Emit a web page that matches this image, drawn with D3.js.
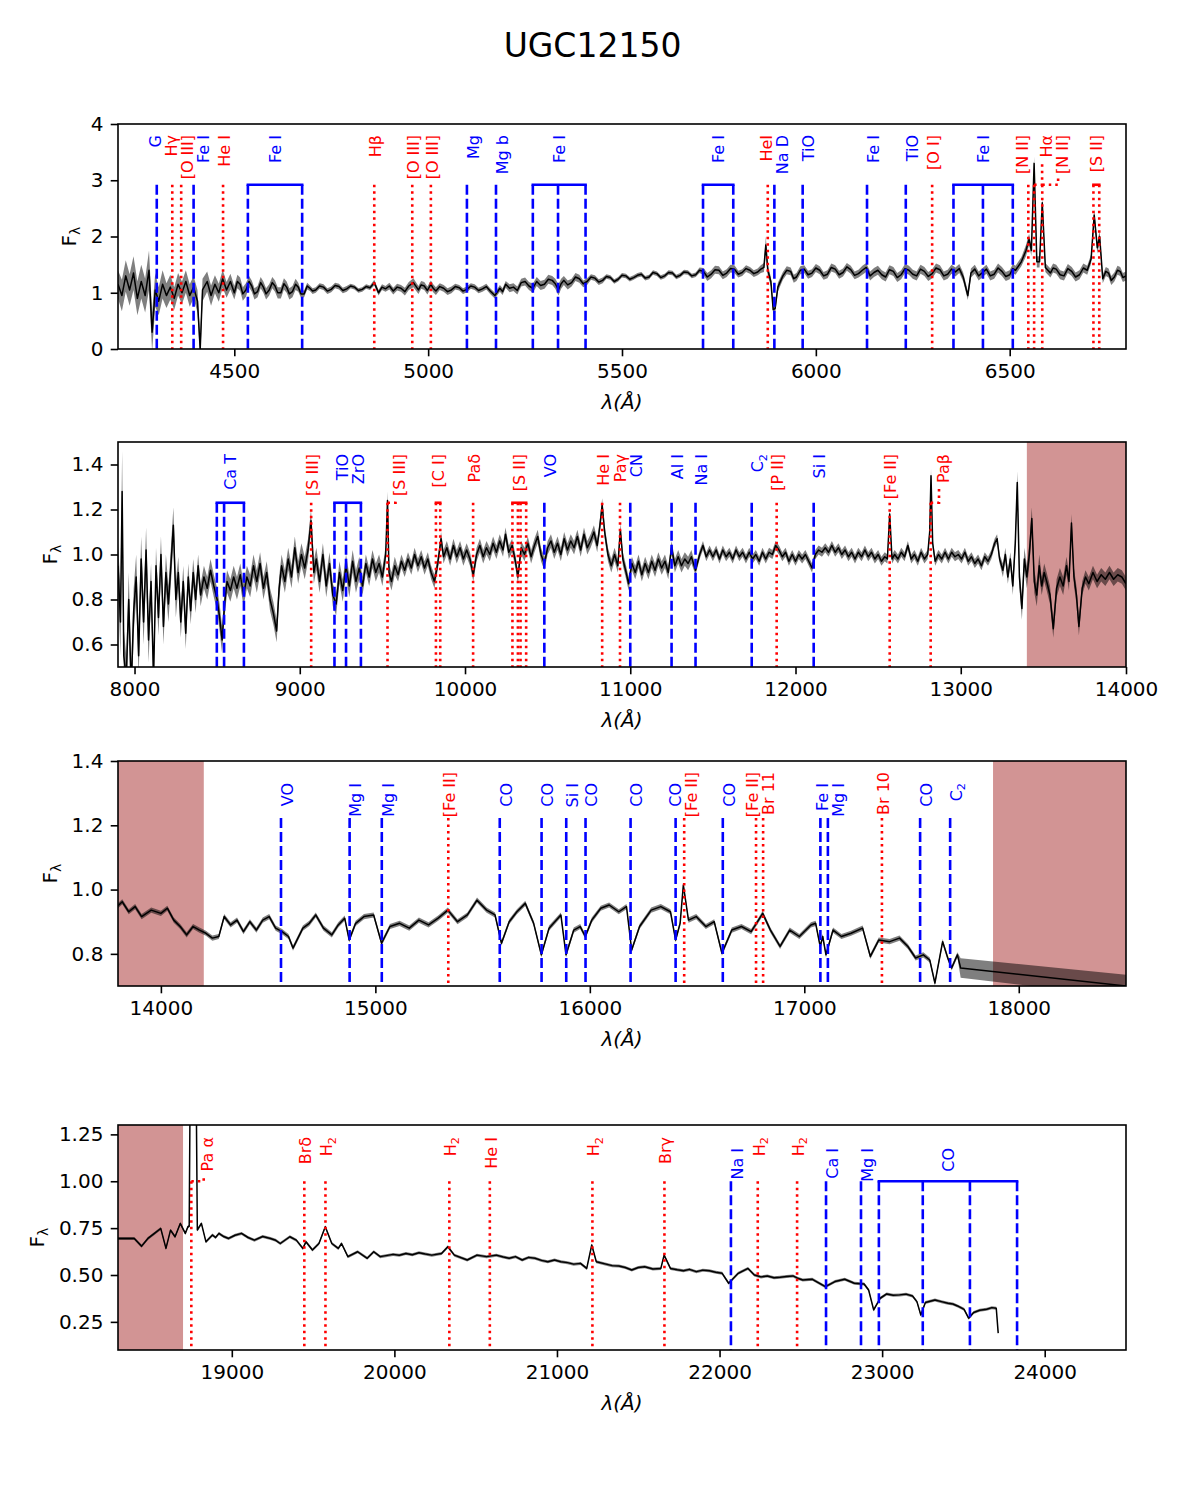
<!DOCTYPE html>
<html>
<head>
<meta charset="utf-8">
<script src="https://cdn.jsdelivr.net/npm/d3@7/dist/d3.min.js"></script>
<style>
  body { margin: 0; background: #fff; }
  text { font-family: "DejaVu Sans", sans-serif; }
</style>
</head>
<body>
<svg id="chart" width="1185" height="1500"></svg>
<script>
// spectrum samples: [wavelength (A), flux, error]
var spec1 = [
  [4200,1.15,.25],[4210,0.95,.28],[4220,1.30,.28],[4230,1.05,.28],[4240,1.35,.3],[4250,0.90,.3],
  [4260,1.20,.3],[4270,0.95,.3],[4280,1.40,.35],[4288,0.30,.35],[4296,1.05,.3],[4305,0.85,.25],
  [4315,1.15,.25],[4325,0.95,.22],[4335,1.10,.22],[4345,0.90,.2],[4355,1.15,.2],[4365,1.00,.2],
  [4375,1.20,.2],[4385,0.95,.2],[4395,1.10,.2],[4405,0.85,.2],[4412,0.00,.2],[4418,1.05,.2],
  [4430,1.20,.18],[4440,0.95,.18],[4450,1.15,.16],[4460,1.00,.16],[4470,1.25,.16],[4480,1.05,.14],
  [4490,1.20,.14],[4500,1.00,.12],[4508,1.20,.12],[4515,1.15,.12],[4522,0.98,.12],[4530,1.05,.12],
  [4538,1.20,.1],[4545,1.12,.1],[4552,0.98,.1],[4560,1.02,.1],[4568,1.18,.1],[4575,1.10,.1],
  [4582,0.98,.1],[4590,1.05,.1],[4598,1.18,.1],[4605,1.12,.1],[4612,1.00,.1],[4620,1.00,.1],
  [4628,1.16,.1],[4635,1.10,.1],[4642,0.98,.1],[4650,1.02,.1],[4658,1.15,.1],[4665,1.10,.08],
  [4672,0.98,.07],[4680,0.98,.06],[4688,1.12,.06],[4695,1.08,.05],[4702,1.03,.05],[4710,1.05,.05],
  [4720,1.12,.05],[4730,1.10,.05],[4740,1.03,.05],[4750,1.06,.05],[4760,1.13,.05],[4770,1.11,.05],
  [4780,1.04,.05],[4790,1.07,.05],[4800,1.12,.04],[4810,1.10,.04],[4820,1.04,.04],[4830,1.06,.04],
  [4840,1.11,.04],[4850,1.09,.04],[4861,1.18,.05],[4872,1.00,.05],[4881,1.10,.05],[4890,1.07,.05],
  [4900,1.12,.06],[4910,1.03,.06],[4920,1.10,.06],[4930,1.08,.06],[4940,1.02,.07],[4950,1.12,.07],
  [4962,1.18,.08],[4975,1.05,.07],[4982,1.14,.07],[4990,1.12,.07],[4998,1.04,.07],[5007,1.15,.07],
  [5013,1.08,.07],[5020,1.03,.07],[5030,1.11,.06],[5040,1.08,.06],[5050,1.02,.06],[5060,1.05,.06],
  [5070,1.11,.05],[5080,1.09,.05],[5090,1.03,.05],[5100,1.06,.05],[5110,1.12,.05],[5120,1.10,.05],
  [5130,1.04,.05],[5140,1.07,.05],[5150,1.11,.05],[5160,1.03,.05],[5172,0.95,.05],[5185,1.08,.06],
  [5192,1.02,.06],[5200,1.15,.06],[5210,1.08,.07],[5220,1.10,.07],[5230,1.04,.07],[5240,1.18,.07],
  [5250,1.20,.07],[5260,1.12,.07],[5270,1.08,.08],[5280,1.20,.08],[5290,1.13,.08],[5300,1.15,.08],
  [5310,1.24,.08],[5320,1.22,.08],[5328,1.16,.09],[5336,1.05,.1],[5343,1.16,.09],[5350,1.22,.08],
  [5360,1.14,.08],[5370,1.18,.07],[5380,1.28,.07],[5390,1.25,.07],[5400,1.16,.06],[5410,1.20,.06],
  [5420,1.28,.05],[5430,1.26,.05],[5440,1.19,.05],[5450,1.22,.05],[5460,1.29,.04],[5470,1.27,.04],
  [5480,1.20,.04],[5490,1.24,.04],[5500,1.31,.04],[5510,1.30,.04],[5520,1.24,.04],[5530,1.27,.04],
  [5540,1.31,.04],[5550,1.33,.04],[5560,1.26,.04],[5570,1.28,.04],[5580,1.36,.04],[5590,1.34,.04],
  [5600,1.27,.04],[5610,1.30,.04],[5620,1.36,.04],[5630,1.35,.04],[5640,1.28,.04],[5650,1.31,.04],
  [5660,1.37,.04],[5670,1.36,.04],[5680,1.30,.04],[5690,1.32,.04],[5700,1.40,.05],[5710,1.38,.06],
  [5720,1.28,.07],[5730,1.33,.07],[5740,1.41,.07],[5750,1.40,.07],[5760,1.31,.07],[5770,1.35,.07],
  [5780,1.43,.07],[5790,1.42,.07],[5800,1.33,.06],[5810,1.36,.06],[5820,1.43,.06],[5830,1.40,.06],
  [5840,1.34,.06],[5850,1.37,.06],[5858,1.42,.07],[5866,1.45,.08],[5871,1.85,.15],[5876,1.40,.1],
  [5884,1.20,.08],[5890,0.70,.08],[5895,0.72,.08],[5902,1.10,.08],[5915,1.30,.07],[5925,1.40,.07],
  [5935,1.38,.07],[5943,1.25,.07],[5950,1.28,.07],[5960,1.40,.07],[5970,1.42,.07],[5980,1.32,.07],
  [5990,1.35,.07],[6000,1.44,.07],[6010,1.40,.07],[6020,1.30,.07],[6030,1.33,.07],[6040,1.45,.07],
  [6050,1.42,.07],[6060,1.32,.07],[6070,1.36,.07],[6080,1.46,.07],[6090,1.41,.07],[6100,1.31,.07],
  [6110,1.34,.07],[6120,1.40,.08],[6130,1.45,.08],[6140,1.30,.08],[6150,1.36,.08],[6160,1.40,.08],
  [6170,1.32,.08],[6180,1.28,.08],[6190,1.41,.08],[6200,1.38,.08],[6210,1.27,.08],[6220,1.32,.08],
  [6230,1.43,.08],[6240,1.40,.08],[6250,1.33,.08],[6260,1.30,.08],[6270,1.42,.08],[6280,1.38,.08],
  [6290,1.29,.08],[6300,1.34,.08],[6310,1.44,.08],[6320,1.41,.08],[6330,1.30,.08],[6340,1.33,.08],
  [6350,1.42,.08],[6360,1.37,.08],[6370,1.43,.08],[6380,1.28,.08],[6392,0.95,.08],[6400,1.35,.08],
  [6410,1.42,.08],[6420,1.30,.08],[6430,1.36,.08],[6440,1.42,.08],[6450,1.30,.08],[6460,1.33,.08],
  [6470,1.44,.08],[6480,1.38,.08],[6490,1.29,.08],[6500,1.32,.08],[6508,1.43,.08],[6515,1.40,.08],
  [6530,1.55,.08],[6542,1.75,.1],[6550,1.95,.1],[6556,1.75,.1],[6563,3.30,.12],[6570,1.55,.1],
  [6577,1.55,.1],[6584,2.60,.1],[6592,1.45,.08],[6605,1.35,.08],[6612,1.44,.08],[6620,1.42,.08],
  [6630,1.32,.08],[6640,1.30,.08],[6650,1.43,.08],[6660,1.38,.08],[6670,1.28,.08],[6680,1.32,.08],
  [6690,1.44,.08],[6700,1.40,.08],[6710,1.60,.08],[6718,2.38,.1],[6726,1.80,.1],[6732,2.00,.1],
  [6740,1.25,.08],[6748,1.38,.08],[6755,1.35,.08],[6762,1.22,.08],[6770,1.28,.08],[6778,1.40,.08],
  [6785,1.38,.08],[6792,1.27,.08],[6800,1.30,.08]
];

var spec2 = [
  [7900,0.95,.1],[7915,0.70,.15],[7925,1.28,.18],[7935,0.55,.12],[7950,0.45,.1],[7965,0.80,.12],
  [7980,0.40,.1],[7995,0.75,.1],[8010,0.90,.1],[8025,0.55,.1],[8040,0.98,.1],[8055,0.70,.1],
  [8070,1.02,.1],[8085,0.62,.1],[8100,0.88,.08],[8115,0.45,.08],[8130,0.95,.08],[8145,0.72,.08],
  [8160,1.00,.08],[8175,0.68,.08],[8190,0.92,.08],[8205,0.78,.08],[8220,0.95,.08],[8235,1.13,.08],
  [8250,0.80,.08],[8265,0.92,.07],[8280,0.70,.07],[8295,0.88,.07],[8310,0.65,.07],[8325,0.90,.06],
  [8340,0.75,.06],[8355,0.92,.06],[8370,0.80,.06],[8385,0.95,.05],[8400,0.82,.05],[8420,0.90,.05],
  [8440,0.85,.05],[8460,0.93,.05],[8480,0.86,.05],[8500,0.80,.05],[8515,0.72,.06],[8530,0.62,.06],
  [8545,0.78,.06],[8560,0.88,.05],[8580,0.84,.05],[8600,0.90,.05],[8620,0.85,.05],[8640,0.91,.05],
  [8660,0.82,.05],[8680,0.90,.05],[8700,0.86,.05],[8720,0.95,.05],[8740,0.88,.05],[8760,0.96,.05],
  [8780,0.85,.05],[8800,0.92,.05],[8820,0.80,.05],[8840,0.74,.05],[8860,0.66,.05],[8875,0.85,.05],
  [8890,0.95,.05],[8910,0.88,.05],[8930,0.98,.05],[8950,0.90,.05],[8970,1.03,.05],[8990,0.92,.05],
  [9010,1.00,.05],[9030,0.94,.05],[9050,1.02,.05],[9068,1.15,.05],[9085,0.92,.05],[9100,0.98,.05],
  [9120,0.88,.05],[9140,1.00,.05],[9160,0.86,.05],[9180,0.96,.05],[9200,0.82,.05],[9220,0.78,.05],
  [9240,0.92,.05],[9260,0.84,.05],[9280,0.95,.05],[9300,0.86,.05],[9320,0.97,.05],[9340,0.88,.05],
  [9360,0.94,.05],[9380,0.86,.04],[9400,0.96,.04],[9420,0.90,.04],[9440,0.98,.04],[9460,0.92,.04],
  [9480,0.96,.04],[9500,0.90,.04],[9520,1.00,.04],[9531,1.24,.04],[9540,0.92,.04],[9555,0.88,.04],
  [9575,0.95,.04],[9595,0.91,.03],[9615,0.97,.03],[9635,0.93,.03],[9655,0.98,.03],[9675,0.94,.03],
  [9695,1.00,.03],[9715,0.95,.03],[9735,0.99,.03],[9755,0.94,.03],[9775,0.98,.03],[9795,0.92,.03],
  [9815,0.88,.03],[9835,0.96,.03],[9855,1.07,.03],[9870,0.99,.03],[9890,1.03,.03],[9910,0.98,.03],
  [9930,1.04,.03],[9950,0.99,.03],[9970,1.03,.03],[9990,0.98,.03],[10010,1.02,.03],[10030,0.98,.03],
  [10050,0.91,.03],[10070,1.00,.03],[10090,1.04,.03],[10110,0.99,.03],[10130,1.03,.03],[10150,1.00,.03],
  [10170,1.05,.03],[10190,1.01,.03],[10210,1.06,.03],[10230,1.02,.03],[10245,1.09,.03],[10265,1.01,.03],
  [10285,1.04,.03],[10305,0.97,.03],[10320,0.90,.03],[10340,1.03,.03],[10360,1.00,.03],[10380,1.05,.03],
  [10400,0.99,.03],[10420,1.04,.03],[10440,1.08,.03],[10460,1.00,.03],[10480,0.96,.03],[10500,1.03,.03],
  [10520,1.06,.03],[10540,1.01,.03],[10560,1.05,.03],[10580,1.00,.03],[10600,1.07,.03],[10620,1.02,.03],
  [10640,1.06,.03],[10660,1.03,.03],[10680,1.08,.03],[10700,1.02,.03],[10720,1.09,.03],[10740,1.03,.03],
  [10760,1.06,.03],[10780,1.10,.03],[10800,1.04,.03],[10815,1.12,.03],[10830,1.22,.03],[10845,1.10,.03],
  [10865,1.00,.03],[10885,0.95,.03],[10905,1.00,.03],[10925,0.95,.03],[10940,1.11,.03],[10955,0.98,.03],
  [10975,0.92,.03],[10990,0.87,.03],[11010,0.96,.03],[11030,0.92,.03],[11050,0.97,.03],[11070,0.91,.03],
  [11090,0.96,.03],[11110,0.92,.03],[11130,0.97,.03],[11150,0.93,.03],[11170,0.98,.03],[11190,0.94,.03],
  [11210,0.97,.03],[11230,0.92,.03],[11250,1.03,.03],[11270,0.95,.03],[11290,0.99,.03],[11310,0.95,.03],
  [11330,0.98,.03],[11350,0.96,.03],[11370,0.99,.03],[11395,0.93,.02],[11420,1.00,.02],[11440,1.04,.02],
  [11460,0.99,.02],[11480,1.02,.02],[11500,0.99,.02],[11520,1.02,.02],[11540,0.98,.02],[11560,1.02,.02],
  [11580,0.99,.02],[11600,1.01,.02],[11620,0.98,.02],[11640,1.02,.02],[11660,0.99,.02],[11680,1.01,.02],
  [11700,0.98,.02],[11720,1.01,.02],[11740,0.98,.02],[11760,1.00,.02],[11780,0.97,.02],[11800,1.01,.02],
  [11820,0.98,.02],[11840,1.01,.02],[11860,1.00,.02],[11880,1.04,.02],[11900,1.02,.02],[11920,0.99,.02],
  [11940,1.01,.02],[11960,0.97,.02],[11980,1.00,.02],[12000,0.97,.02],[12020,1.00,.02],[12040,0.98,.02],
  [12060,1.00,.02],[12080,0.97,.02],[12100,0.94,.02],[12120,1.00,.02],[12140,1.02,.02],[12160,1.01,.02],
  [12180,1.03,.02],[12200,1.01,.02],[12220,1.04,.02],[12240,1.01,.02],[12260,1.03,.02],[12280,1.00,.02],
  [12300,1.02,.02],[12320,0.99,.02],[12340,1.01,.02],[12360,0.98,.02],[12380,1.01,.02],[12400,0.99,.02],
  [12420,1.02,.02],[12440,0.99,.02],[12460,1.01,.02],[12480,0.98,.02],[12500,1.00,.02],[12520,0.97,.02],
  [12540,0.99,.02],[12556,0.98,.02],[12570,1.18,.02],[12584,0.98,.02],[12600,1.00,.02],[12620,0.98,.02],
  [12640,1.01,.02],[12660,0.99,.02],[12680,1.04,.02],[12700,0.98,.02],[12720,1.00,.02],[12740,0.97,.02],
  [12760,1.01,.02],[12780,0.98,.02],[12800,1.00,.02],[12812,1.10,.02],[12820,1.35,.03],[12830,1.05,.02],
  [12845,0.97,.02],[12865,1.00,.02],[12885,0.98,.02],[12905,1.01,.02],[12925,0.98,.02],[12945,1.01,.02],
  [12965,0.99,.02],[12985,1.00,.02],[13005,0.98,.02],[13025,1.01,.02],[13045,0.97,.02],[13065,0.99,.02],
  [13085,0.96,.02],[13105,0.98,.02],[13125,0.95,.02],[13145,0.99,.02],[13165,0.97,.02],[13185,1.00,.02],
  [13205,1.05,.02],[13220,1.07,.02],[13235,0.98,.02],[13255,0.93,.03],[13270,1.00,.03],[13285,0.90,.03],
  [13300,0.98,.03],[13315,0.86,.04],[13330,1.05,.04],[13342,1.32,.05],[13355,0.90,.05],[13370,0.76,.05],
  [13385,0.98,.05],[13400,0.90,.05],[13415,1.00,.05],[13430,1.16,.05],[13445,0.88,.05],[13460,0.82,.05],
  [13475,0.95,.05],[13490,0.86,.04],[13505,0.92,.04],[13520,0.88,.04],[13540,0.82,.04],[13560,0.67,.04],
  [13580,0.85,.04],[13600,0.90,.04],[13620,0.86,.04],[13640,0.95,.04],[13655,0.88,.04],[13670,1.14,.04],
  [13685,0.90,.04],[13700,0.82,.04],[13715,0.68,.04],[13735,0.85,.03],[13755,0.90,.03],[13775,0.87,.03],
  [13800,0.92,.03],[13825,0.88,.03],[13850,0.91,.03],[13875,0.89,.03],[13900,0.92,.03],[13925,0.89,.03],
  [13950,0.91,.03],[13975,0.90,.03],[14000,0.87,.03]
];

var spec3 = [
  [13800,0.950,.008],[13820,0.962,.008],[13850,0.931,.008],[13880,0.947,.008],[13910,0.916,.008],
  [13955,0.936,.008],[14000,0.926,.008],[14030,0.942,.008],[14060,0.905,.008],[14090,0.885,.008],
  [14120,0.859,.008],[14150,0.885,.008],[14180,0.874,.008],[14210,0.864,.008],[14240,0.849,.008],
  [14270,0.854,.008],[14295,0.916,.008],[14325,0.890,.008],[14355,0.905,.008],[14385,0.869,.008],
  [14415,0.900,.008],[14445,0.874,.008],[14475,0.905,.008],[14505,0.916,.008],[14535,0.880,.008],
  [14565,0.869,.008],[14595,0.854,.008],[14616,0.818,.008],[14662,0.880,.008],[14692,0.895,.008],
  [14722,0.921,.008],[14758,0.880,.008],[14797,0.859,.008],[14827,0.890,.008],[14857,0.911,.008],
  [14878,0.843,.008],[14908,0.895,.008],[14947,0.916,.008],[14992,0.921,.008],[15029,0.833,.008],
  [15068,0.885,.008],[15113,0.895,.008],[15158,0.880,.008],[15203,0.905,.008],[15248,0.890,.008],
  [15293,0.911,.008],[15338,0.936,.008],[15383,0.900,.008],[15429,0.921,.008],[15474,0.967,.008],
  [15519,0.936,.008],[15558,0.921,.008],[15588,0.833,.008],[15624,0.900,.008],[15660,0.931,.008],
  [15699,0.957,.008],[15738,0.895,.008],[15774,0.797,.008],[15810,0.880,.008],[15865,0.921,.008],
  [15889,0.797,.008],[15925,0.874,.008],[15955,0.885,.008],[15979,0.854,.008],[16009,0.905,.008],
  [16051,0.942,.008],[16090,0.952,.008],[16135,0.931,.008],[16171,0.947,.008],[16195,0.812,.008],
  [16232,0.885,.008],[16286,0.936,.008],[16331,0.947,.008],[16376,0.931,.008],[16400,0.843,.008],
  [16421,0.895,.008],[16436,1.014,.008],[16460,0.905,.008],[16496,0.916,.008],[16541,0.885,.008],
  [16580,0.900,.008],[16616,0.802,.008],[16662,0.874,.008],[16707,0.885,.008],[16752,0.869,.008],
  [16782,0.900,.008],[16806,0.926,.008],[16842,0.874,.008],[16887,0.823,.008],[16932,0.874,.008],
  [16977,0.854,.008],[17031,0.890,.008],[17053,0.895,.008],[17074,0.823,.008],[17086,0.854,.008],
  [17101,0.797,.008],[17134,0.874,.008],[17173,0.854,.008],[17218,0.864,.008],[17272,0.880,.008],
  [17308,0.792,.008],[17347,0.843,.008],[17398,0.838,.008],[17444,0.849,.008],[17483,0.823,.008],
  [17519,0.787,.008],[17555,0.797,.008],[17585,0.781,.008],[17609,0.709,.008],[17645,0.838,.008],
  [17669,0.787,.008],[17687,0.756,.008],[17714,0.797,.008],[17729,0.756,.03],[18500,0.700,.035]
];

var spec4 = [
  [18300,0.695,.008],[18400,0.695,.008],[18445,0.654,.008],[18484,0.695,.008],[18524,0.722,.008],
  [18563,0.748,.008],[18595,0.642,.008],[18623,0.739,.008],[18651,0.704,.008],[18683,0.775,.008],
  [18714,0.722,.008],[18730,0.757,.008],[18738,0.760,.008],[18746,1.800,.01],[18762,2.400,.01],
  [18778,1.800,.01],[18788,0.740,.008],[18813,0.775,.008],[18841,0.677,.008],[18881,0.713,.008],
  [18900,0.700,.008],[18921,0.722,.008],[18950,0.705,.008],[18980,0.695,.008],[19020,0.712,.008],
  [19060,0.722,.008],[19100,0.700,.008],[19139,0.686,.008],[19190,0.705,.008],[19238,0.695,.008],
  [19270,0.685,.008],[19298,0.668,.008],[19357,0.704,.008],[19397,0.686,.008],[19437,0.642,.008],
  [19456,0.677,.008],[19496,0.633,.008],[19536,0.668,.008],[19575,0.757,.008],[19615,0.668,.008],
  [19655,0.642,.008],[19675,0.668,.008],[19714,0.598,.008],[19774,0.624,.008],[19833,0.589,.008],
  [19873,0.624,.008],[19913,0.598,.008],[19992,0.610,.008],[20030,0.605,.008],[20071,0.615,.008],
  [20110,0.608,.008],[20151,0.619,.008],[20190,0.612,.008],[20230,0.606,.008],[20290,0.615,.008],
  [20329,0.651,.008],[20369,0.606,.008],[20448,0.580,.008],[20508,0.606,.008],[20567,0.598,.008],
  [20627,0.606,.008],[20670,0.596,.008],[20706,0.589,.008],[20745,0.598,.008],[20786,0.580,.008],
  [20825,0.594,.008],[20865,0.589,.008],[20905,0.578,.008],[20944,0.571,.008],[20985,0.580,.008],
  [21024,0.571,.008],[21065,0.566,.008],[21103,0.558,.008],[21145,0.562,.008],[21183,0.535,.008],
  [21214,0.660,.008],[21242,0.571,.008],[21302,0.558,.008],[21340,0.550,.008],[21381,0.548,.008],
  [21420,0.540,.008],[21460,0.527,.008],[21500,0.540,.008],[21540,0.544,.008],[21590,0.532,.008],
  [21639,0.535,.008],[21659,0.606,.008],[21698,0.535,.008],[21740,0.528,.008],[21778,0.523,.008],
  [21815,0.530,.008],[21857,0.518,.008],[21897,0.526,.008],[21937,0.523,.008],[21977,0.515,.008],
  [22016,0.509,.008],[22056,0.456,.008],[22115,0.509,.008],[22175,0.535,.008],[22214,0.500,.008],
  [22255,0.490,.008],[22294,0.495,.008],[22335,0.485,.008],[22373,0.488,.008],[22412,0.492,.008],
  [22452,0.495,.008],[22480,0.483,.008],[22512,0.473,.008],[22571,0.477,.008],[22651,0.438,.008],
  [22710,0.465,.008],[22770,0.477,.008],[22829,0.456,.008],[22889,0.452,.008],[22917,0.420,.008],
  [22948,0.314,.008],[22988,0.376,.008],[23028,0.399,.008],[23068,0.392,.008],[23107,0.394,.008],
  [23147,0.398,.008],[23187,0.388,.008],[23214,0.358,.008],[23238,0.287,.008],[23266,0.353,.008],
  [23325,0.367,.008],[23365,0.358,.008],[23405,0.349,.008],[23435,0.345,.008],[23464,0.335,.008],
  [23504,0.317,.008],[23532,0.270,.008],[23563,0.300,.008],[23600,0.312,.008],[23643,0.317,.008],
  [23675,0.326,.008],[23702,0.323,.008],[23714,0.190,.008]
];

// line identifications: name, rest wavelengths, kind (em = emission, abs = absorption)
var lines1 = [
  {n:'G', w:[4300], k:'abs'}, {n:'Hγ', w:[4340], k:'em'}, {n:'[O III]', w:[4363], k:'em'},
  {n:'Fe I', w:[4395], k:'abs'}, {n:'He I', w:[4471], k:'em'}, {n:'Fe I', w:[4535,4675], k:'abs'},
  {n:'Hβ', w:[4861], k:'em'}, {n:'[O III]', w:[4959], k:'em'}, {n:'[O III]', w:[5007], k:'em'},
  {n:'Mg', w:[5100], k:'abs'}, {n:'Mg b', w:[5175], k:'abs'}, {n:'Fe I', w:[5270,5335,5406], k:'abs'},
  {n:'Fe I', w:[5709,5787], k:'abs'}, {n:'HeI', w:[5876], k:'em'}, {n:'Na D', w:[5893], k:'abs'},
  {n:'TiO', w:[5966], k:'abs'}, {n:'Fe I', w:[6132], k:'abs'}, {n:'TiO', w:[6232], k:'abs'},
  {n:'[O I]', w:[6300], k:'em'}, {n:'Fe I', w:[6355,6431,6508], k:'abs'}, {n:'[N II]', w:[6548], k:'em'},
  {n:'Hα', w:[6563], k:'em'}, {n:'[N II]', w:[6584], k:'em'}, {n:'[S II]', w:[6716,6731], k:'em'}
];
var lines2 = [
  {n:'Ca T', w:[8498,8542,8662], k:'abs'}, {n:'[S III]', w:[9069], k:'em'}, {n:'TiO', w:[9210,9370], k:'abs'},
  {n:'ZrO', w:[9280], k:'abs'}, {n:'[S III]', w:[9531], k:'em'}, {n:'[C I]', w:[9824,9850], k:'em'},
  {n:'Paδ', w:[10049], k:'em'}, {n:'[S II]', w:[10287,10320,10336,10370], k:'em'}, {n:'VO', w:[10480], k:'abs'},
  {n:'He I', w:[10830], k:'em'}, {n:'Paγ', w:[10938], k:'em'}, {n:'CN', w:[11000], k:'abs'},
  {n:'Al I', w:[11250], k:'abs'}, {n:'Na I', w:[11395], k:'abs'}, {n:'C_2', w:[11735], k:'abs'},
  {n:'[P II]', w:[11886], k:'em'}, {n:'Si I', w:[12110], k:'abs'}, {n:'[Fe II]', w:[12570], k:'em'},
  {n:'Paβ', w:[12818], k:'em'}
];
var lines3 = [
  {n:'VO', w:[14560], k:'abs'}, {n:'Mg I', w:[14880], k:'abs'}, {n:'Mg I', w:[15030], k:'abs'},
  {n:'[Fe II]', w:[15340], k:'em'}, {n:'CO', w:[15580], k:'abs'}, {n:'CO', w:[15775], k:'abs'},
  {n:'Si I', w:[15890], k:'abs'}, {n:'CO', w:[15980], k:'abs'}, {n:'CO', w:[16190], k:'abs'},
  {n:'CO', w:[16400], k:'abs'}, {n:'[Fe II]', w:[16440], k:'em'}, {n:'CO', w:[16620], k:'abs'},
  {n:'[Fe II]', w:[16775], k:'em'}, {n:'Br 11', w:[16808], k:'em'}, {n:'Fe I', w:[17075], k:'abs'},
  {n:'Mg I', w:[17110], k:'abs'}, {n:'Br 10', w:[17362], k:'em'}, {n:'CO', w:[17540], k:'abs'},
  {n:'C_2', w:[17680], k:'abs'}
];
var lines4 = [
  {n:'Pa α', w:[18751], k:'em'}, {n:'Brδ', w:[19446], k:'em'}, {n:'H_2', w:[19576], k:'em'},
  {n:'H_2', w:[20338], k:'em'}, {n:'He I', w:[20587], k:'em'}, {n:'H_2', w:[21218], k:'em'},
  {n:'Brγ', w:[21661], k:'em'}, {n:'Na I', w:[22070], k:'abs'}, {n:'H_2', w:[22235], k:'em'},
  {n:'H_2', w:[22477], k:'em'}, {n:'Ca I', w:[22655], k:'abs'}, {n:'Mg I', w:[22870], k:'abs'},
  {n:'CO', w:[22980,23250,23540,23830], k:'abs'}
];

// masked (telluric) regions
var shade1 = [];
var shade2 = [[13400,14000]];
var shade3 = [[13800,14200],[17880,18500]];
var shade4 = [[18300,18700]];

var xTicks1 = [4500,5000,5500,6000,6500], yTicks1 = [0,1,2,3,4];
var xTicks2 = [8000,9000,10000,11000,12000,13000,14000], yTicks2 = [0.6,0.8,1.0,1.2,1.4];
var xTicks3 = [14000,15000,16000,17000,18000], yTicks3 = [0.8,1.0,1.2,1.4];
var xTicks4 = [19000,20000,21000,22000,23000,24000], yTicks4 = [0.25,0.50,0.75,1.00,1.25];

var title = 'UGC12150';

// ---------------------------------------------------------------
var svg = d3.select('#chart');
var L = 118, R = 1126, H = 225;
var TICK = 7.3, FS = 20, LFS = 16;
var COL = {em: '#ff0000', abs: '#0000ff'};
var DASH = {em: '2.5,4', abs: '10,4'};

var panels = [
  {spec: spec1, lines: lines1, shades: shade1, xd: [4200,6800], yd: [0,4], xt: xTicks1, yt: yTicks1, fmt: d3.format('d'), top: 124, lineTop: 0.73, offEm: 11, offAbs: 11},
  {spec: spec2, lines: lines2, shades: shade2, xd: [7900,14000], yd: [0.5,1.5], xt: xTicks2, yt: yTicks2, fmt: d3.format('.1f'), top: 442, lineTop: 0.73, offEm: 12, offAbs: 12},
  {spec: spec3, lines: lines3, shades: shade3, xd: [13800,18500], yd: [0.7,1.4], xt: xTicks3, yt: yTicks3, fmt: d3.format('.1f'), top: 761, lineTop: 0.747, offEm: 11, offAbs: 22},
  {spec: spec4, lines: lines4, shades: shade4, xd: [18300,24500], yd: [0.1,1.3], xt: xTicks4, yt: yTicks4, fmt: d3.format('.2f'), top: 1125, lineTop: 0.75, offEm: 12, offAbs: 23}
];

svg.append('text')
  .attr('x', 592.5).attr('y', 57)
  .attr('text-anchor', 'middle')
  .attr('font-size', 33)
  .text(title);

// writes "X_s" as X with subscript s
function setLabel(t, s) {
  var parts = s.split('_');
  t.append('tspan').text(parts[0]);
  if (parts.length > 1) {
    t.append('tspan').attr('dy', '0.3em').attr('font-size', '70%').text(parts[1]);
  }
}

panels.forEach(function(p, i) {
  var x = d3.scaleLinear().domain(p.xd).range([L, R]);
  var y = d3.scaleLinear().domain(p.yd).range([p.top + H, p.top]);
  var g = svg.append('g');

  g.append('clipPath').attr('id', 'clip' + i)
    .append('rect').attr('x', L).attr('y', p.top).attr('width', R - L).attr('height', H);
  var cg = g.append('g').attr('clip-path', 'url(#clip' + i + ')');

  cg.selectAll('rect.shade')
    .data(p.shades)
    .join('rect')
    .attr('class', 'shade')
    .attr('x', (d) => x(d[0]))
    .attr('width', (d) => x(d[1]) - x(d[0]))
    .attr('y', p.top).attr('height', H)
    .attr('fill', '#a52a2a').attr('fill-opacity', 0.5);

  cg.append('path').datum(p.spec)
    .attr('d', d3.area().x((d) => x(d[0])).y0((d) => y(d[1] - d[2])).y1((d) => y(d[1] + d[2])))
    .attr('fill', '#000').attr('fill-opacity', 0.5);

  cg.append('path').datum(p.spec)
    .attr('d', d3.line().x((d) => x(d[0])).y((d) => y(d[1])))
    .attr('fill', 'none').attr('stroke', '#000').attr('stroke-width', 1.5)
    .attr('stroke-linejoin', 'round');

  // vertical line markers
  var topY = p.top + H * (1 - p.lineTop);
  var flat = [];
  p.lines.forEach(function(grp) { grp.w.forEach(function(w) { flat.push({w: w, k: grp.k}); }); });

  cg.selectAll('line.mark')
    .data(flat)
    .join('line')
    .attr('class', 'mark')
    .attr('x1', (d) => x(d.w)).attr('x2', (d) => x(d.w))
    .attr('y1', topY).attr('y2', p.top + H)
    .attr('stroke', (d) => COL[d.k])
    .attr('stroke-width', 2.6)
    .attr('stroke-dasharray', (d) => DASH[d.k]);

  cg.selectAll('line.bracket')
    .data(p.lines.filter((d) => d.w.length > 1))
    .join('line')
    .attr('class', 'bracket')
    .attr('x1', (d) => x(d3.min(d.w)) - 1.3).attr('x2', (d) => x(d3.max(d.w)) + 1.3)
    .attr('y1', topY).attr('y2', topY)
    .attr('stroke', (d) => COL[d.k])
    .attr('stroke-width', 2.6);

  // labels: measure, keep clear of spectrum peaks and of each other
  var pts = p.spec.map((d) => [x(d[0]), y(d[1])]);
  var labs = p.lines.map(function(grp) {
    var cx = x((d3.min(grp.w) + d3.max(grp.w)) / 2);
    var target = cx + (grp.w.length > 1 ? 0 : (grp.k === 'abs' ? 6 : 1));
    var t = g.append('text')
      .attr('font-size', LFS)
      .attr('fill', COL[grp.k])
      .attr('text-anchor', 'end')
      .attr('dy', '0.36em');
    setLabel(t, grp.n);
    var len = t.node().getComputedTextLength();
    var ty = p.top + (grp.k === 'abs' ? p.offAbs : p.offEm);
    return {grp: grp, t: t, cx: cx, target: target, tx: target, ty: ty, bottom: ty + len, avoided: false};
  });

  var gap = 16, hw = 12;
  function repel() {
    labs.sort((a, b) => a.tx - b.tx);
    for (var k = 0; k < labs.length - 1; k++) {
      var d = labs[k + 1].tx - labs[k].tx;
      if (d < gap) {
        var s = (gap - d) / 2;
        labs[k].tx -= s;
        labs[k + 1].tx += s;
      }
    }
  }
  function avoid() {
    labs.forEach(function(lb) {
      var hits = pts.filter((q) => Math.abs(q[0] - lb.tx) < hw && q[1] < lb.bottom + 6);
      if (!hits.length) return;
      var dR = d3.max(hits, (q) => q[0]) + hw - lb.tx;
      var dL = lb.tx - (d3.min(hits, (q) => q[0]) - hw);
      if (dL < 0.6 * dR) { lb.tx -= dL; } else { lb.tx += dR; lb.avoided = true; }
    });
  }
  for (var it = 0; it < 80; it++) { repel(); avoid(); }

  labs.forEach(function(lb) {
    lb.t.attr('transform', 'translate(' + lb.tx + ',' + lb.ty + ') rotate(-90)');
    if (lb.avoided || Math.abs(lb.tx - lb.cx) > 16) {
      g.append('path')
        .attr('d', 'M' + lb.cx + ',' + topY + 'H' + (lb.tx - 4) + 'V' + (lb.bottom + 3))
        .attr('fill', 'none')
        .attr('stroke', COL[lb.grp.k])
        .attr('stroke-width', 2.6)
        .attr('stroke-dasharray', lb.grp.k === 'em' ? DASH.em : null);
    }
  });

  // axes
  var xa = g.append('g').attr('transform', 'translate(0,' + (p.top + H) + ')')
    .call(d3.axisBottom(x).tickValues(p.xt).tickSize(TICK).tickPadding(TICK).tickSizeOuter(0).tickFormat(d3.format('d')));
  var ya = g.append('g').attr('transform', 'translate(' + L + ',0)')
    .call(d3.axisLeft(y).tickValues(p.yt).tickSize(TICK).tickPadding(TICK).tickSizeOuter(0).tickFormat(p.fmt));
  [xa, ya].forEach(function(a) {
    a.attr('font-family', null).attr('font-size', null);
    a.selectAll('text').attr('font-size', FS).attr('fill', '#000');
    a.selectAll('line').attr('stroke', '#000').attr('stroke-width', 1.6);
    a.select('.domain').remove();
  });

  g.append('rect')
    .attr('x', L).attr('y', p.top).attr('width', R - L).attr('height', H)
    .attr('fill', 'none').attr('stroke', '#000').attr('stroke-width', 1.6);

  var tickLeft = d3.min(ya.selectAll('text').nodes(), (n) => n.getBBox().x) + L;
  var yl = g.append('text')
    .attr('transform', 'translate(' + (tickLeft - 15) + ',' + (p.top + H / 2) + ') rotate(-90)')
    .attr('text-anchor', 'middle')
    .attr('font-size', FS);
  yl.append('tspan').text('F');
  yl.append('tspan').attr('dy', '0.3em').attr('font-size', '70%').text('λ');

  g.append('text')
    .attr('x', (L + R) / 2).attr('y', p.top + H + 60)
    .attr('text-anchor', 'middle')
    .attr('font-size', FS)
    .attr('font-style', 'italic')
    .text('λ(Å)');
});
</script>
</body>
</html>
